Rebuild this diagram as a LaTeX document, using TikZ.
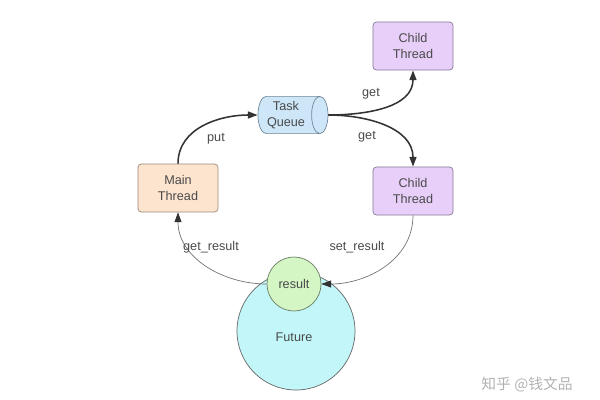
\documentclass[tikz,border=0pt]{standalone}
\usepackage{fontspec}
\setmainfont{Liberation Sans}
\setsansfont{Liberation Sans}
\newfontfamily\cjkfont{Noto Sans CJK SC}
\usepackage{xcolor}
\usetikzlibrary{shapes.geometric,arrows.meta}
\definecolor{txtgray}{HTML}{4A4A4A}
\definecolor{mainfill}{HTML}{FDE4CF}
\definecolor{mainedge}{HTML}{9C8878}
\definecolor{childfill}{HTML}{E8CFFA}
\definecolor{childedge}{HTML}{857A96}
\definecolor{queuefill}{HTML}{CDE6F8}
\definecolor{queueedge}{HTML}{6F8799}
\definecolor{futurefill}{HTML}{C2F6F8}
\definecolor{resultfill}{HTML}{D4F5C4}
\definecolor{resultedge}{HTML}{6C7E64}
\tikzset{
  thread/.style  = {draw, rounded corners=2.5pt, minimum width=2cm, minimum height=1.2cm,
                    align=center, line width=0.5pt},
  queue/.style   = {cylinder, draw=queueedge, fill=queuefill, minimum width=0.93cm,
                    minimum height=1.75cm, shape aspect=0.45, align=center, line width=0.5pt},
  lbl/.style     = {text=txtgray},
  flow/.style    = {draw=black!80, line width=1.1pt, -{Triangle[length=7pt,width=5pt]}},
  back/.style    = {draw=black!55, line width=0.5pt,
                    -{Triangle[length=7pt,width=5pt,color=black!80]}},
}

\begin{document}
\begin{tikzpicture}[x=0.025cm, y=-0.025cm,
  every node/.style={font=\sffamily\fontsize{9}{11}\selectfont, text=txtgray}]

\useasboundingbox (0,0) rectangle (600,400);

% ── Threads and queue ─────────────────────────────────────────
\node[thread, draw=mainedge, fill=mainfill] (main) at (178,188) {Main\\Thread};
\node[queue] (queue) at (286,115) {Task\\Queue};
\node[thread, draw=childedge, fill=childfill] (childA) at (413,46) {Child\\Thread};
\node[thread, draw=childedge, fill=childfill] (childB) at (413,191) {Child\\Thread};

% ── Future holding the result ─────────────────────────────────
\node[circle, draw=black!60, fill=futurefill, minimum size=2.95cm, line width=0.5pt]
  (future) at (296,331) {};
\node (futurelbl) at (294,337) {Future};
\node[circle, draw=resultedge, fill=resultfill, minimum size=1.35cm, line width=0.5pt]
  (result) at (294,284) {result};

% ── put / get ─────────────────────────────────────────────────
\draw[flow] (main.north) to[out=90, in=180] (queue.west);
\draw[flow] (queue.east) to[out=0, in=270] (childA.south);
\draw[flow] (queue.east) to[out=0, in=90] (childB.north);

% ── set_result / get_result ───────────────────────────────────
\draw[back] (childB.south) to[out=270, in=0] (result.east);
\draw[back] (result.west) to[out=180, in=270] (main.south);

% Labels
\node[lbl] (putlbl) at (216,139) {put};
\node[lbl] (getA) at (371,94) {get};
\node[lbl] (getB) at (367,137) {get};
\node[lbl] (getres) at (211,247) {get\_result};
\node[lbl] (setres) at (357,247) {set\_result};

% watermark
\node[text=black!30, font=\cjkfont\fontsize{10.5}{12}\selectfont] (mark) at (527,385) {知乎 @钱文品};

\end{tikzpicture}
\end{document}
